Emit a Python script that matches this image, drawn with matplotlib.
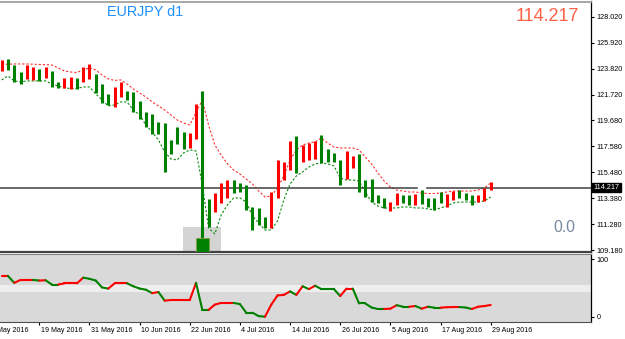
"""EURJPY d1, May-Aug 2016, redrawn in MetaTrader style."""

import matplotlib

matplotlib.use("Agg")

import matplotlib.pyplot as plt
import matplotlib.transforms as mtransforms
import numpy as np
from matplotlib.collections import LineCollection
from matplotlib.patches import Rectangle

W, H = 625, 339
FONT = "Liberation Sans"
RED = "#ff0000"
GREEN = "#008000"

# one bar per weekday, 11 May 2016 .. 29 Aug 2016
HIGHS = [124.54, 124.62, 124.14, 123.60, 124.14, 123.95, 123.82, 124.00, 123.68, 122.79,
         123.11, 123.19, 123.11, 123.95, 124.22, 123.39, 122.58, 121.77, 122.39, 122.79,
         122.04, 121.98, 121.23, 120.36, 120.15, 119.56, 119.48, 118.08, 119.15, 118.75,
         118.62, 120.99, 122.04, 113.28, 113.77, 114.58, 114.84, 114.84, 114.58, 114.44,
         112.68, 112.56, 111.88, 113.90, 116.46, 116.32, 118.00, 118.40, 117.67, 117.81,
         118.00, 118.48, 117.35, 117.00, 116.46, 117.19, 116.81, 116.92, 114.84, 114.92,
         113.63, 113.36, 113.09, 113.77, 113.63, 113.63, 113.71, 114.04, 113.41, 113.36,
         113.90, 113.69, 113.95, 114.04, 113.77, 113.63, 113.63, 114.17, 114.71]
LOWS = [123.65, 123.74, 122.74, 122.58, 123.01, 122.93, 122.85, 123.06, 122.39, 122.30,
        122.26, 122.20, 122.20, 122.74, 123.01, 121.85, 121.04, 120.91, 120.77, 121.58,
        121.31, 120.32, 119.77, 119.15, 118.54, 118.54, 115.51, 116.95, 117.75, 117.33,
        117.41, 118.13, 109.20, 111.07, 112.28, 112.96, 113.36, 113.77, 113.90, 112.42,
        110.80, 111.21, 110.94, 110.94, 113.36, 114.84, 115.65, 115.43, 116.32, 116.46,
        116.54, 116.19, 116.32, 116.27, 114.44, 114.92, 115.79, 113.90, 113.49, 113.09,
        112.96, 112.56, 112.34, 112.82, 112.96, 112.82, 112.82, 112.88, 112.68, 112.42,
        112.96, 112.68, 113.23, 113.41, 113.23, 112.82, 113.09, 113.15, 114.04]
# u = bar closed up (red), d = bar closed down (green); ten bars per chunk
DIRECTION = ("uddduududd" "uuduuddduu" "dddddddddd" "uudduuuddd" "ddduuuuduu"
             "udddduuddd" "dduudduddd" "duuddduuu")

UPPER = [124.18, 124.20, 124.22, 124.22, 124.22, 124.20, 124.18, 124.16, 124.14, 123.90,
         123.65, 123.57, 123.53, 123.74, 123.90, 123.74, 123.33, 123.01, 122.89, 122.93,
         122.60, 122.20, 121.88, 121.55, 121.15, 120.83, 120.50, 120.10, 119.69, 119.45,
         119.29, 120.30, 121.31, 119.29, 117.67, 116.86, 116.14, 115.65, 115.33, 114.92,
         114.52, 113.95, 113.47, 113.55, 114.20, 115.17, 116.46, 117.27, 117.67, 117.83,
         117.92, 118.24, 117.83, 117.51, 117.43, 117.43, 117.43, 117.27, 116.70, 116.14,
         115.41, 114.76, 114.28, 114.03, 113.95, 113.87, 113.87, 113.79, 113.75, 113.75,
         113.79, 113.87, 113.95, 113.95, 113.95, 113.95, 114.03, 114.20, 114.60]
LOWER = [122.93, 123.25, 122.85, 122.77, 122.85, 122.85, 122.85, 122.85, 122.60, 122.44,
         122.28, 122.24, 122.24, 122.36, 122.36, 121.80, 121.31, 120.83, 120.91, 121.15,
         121.15, 120.50, 120.10, 119.29, 118.72, 118.08, 117.11, 116.54, 116.46, 117.03,
         117.27, 117.19, 114.44, 110.96, 110.48, 112.01, 112.82, 113.39, 113.39, 113.06,
         111.93, 111.37, 110.80, 110.80, 111.53, 113.23, 114.52, 115.17, 115.49, 115.89,
         116.14, 116.22, 116.14, 115.98, 115.00, 114.84, 114.84, 114.76, 113.87, 113.06,
         112.74, 112.58, 112.58, 112.58, 112.66, 112.66, 112.58, 112.58, 112.50, 112.42,
         112.58, 112.74, 112.98, 113.06, 113.06, 113.06, 113.06, 113.15, 113.47]

OSC = [71, 71, 59, 64, 64, 64, 63, 63.5, 56, 56,
       58, 58, 58, 68, 66, 63, 51, 49, 58, 58,
       58, 53, 49, 47, 41, 43, 28, 29, 29, 29,
       29, 59, 12, 12, 21, 24, 24, 24, 22, 7,
       7, 1, 0, 21, 37, 38, 44, 38, 53, 48,
       54, 48, 48, 48, 36, 49, 49, 23, 23, 16,
       13.4, 13.4, 14, 20, 17.4, 17.4, 18.6, 14, 17.4, 15.8,
       15.8, 16.5, 16.8, 16.8, 16, 13.4, 17.4, 18.6, 20.4]
OSC_BAND = (43.5, 55.5)

DATE_POS = [-2, 6, 14, 22, 30, 38, 46, 54, 62, 70, 78]
DATE_LABELS = ["9 May 2016", "19 May 2016", "31 May 2016", "10 Jun 2016", "22 Jun 2016",
               "4 Jul 2016", "14 Jul 2016", "26 Jul 2016", "5 Aug 2016", "17 Aug 2016",
               "29 Aug 2016"]
PRICE_TICKS = [128.02, 125.92, 123.82, 121.72, 119.68, 117.58, 115.48, 113.38, 111.28, 109.18]
LAST_PRICE = 114.217
MARKED_BAR = 32  # Brexit bar, highlighted by the box at its low


def _px_box(left, top, right, bottom):
    return [left / W, 1 - bottom / H, (right - left) / W, (bottom - top) / H]


def draw_main(ax):
    x = np.arange(len(HIGHS))
    ax.add_patch(Rectangle((MARKED_BAR - 3.1, 108.9), 6.1, 2.14, color="#d4d4d4", lw=0, zorder=1))
    ax.add_patch(Rectangle((MARKED_BAR - 1.0, 108.9), 2.05, 1.25, facecolor=GREEN,
                           edgecolor="#7fa040", lw=0.6, zorder=4))
    colors = [RED if d == "u" else GREEN for d in DIRECTION]
    ax.vlines(x, LOWS, HIGHS, colors=colors, linewidth=2.2, zorder=3)
    ax.plot(x, UPPER, color="#ff3030", lw=0.8, dashes=(2, 1.7), zorder=2)
    ax.plot(x, LOWER, color="#0a8a0a", lw=0.8, dashes=(2, 1.7), zorder=2)

    # last price line, broken where the chart leaves a gap
    ax.plot([-1, 66.2], [LAST_PRICE, LAST_PRICE], color="#404040", lw=1.1, zorder=2)
    ax.plot([67.8, 100], [LAST_PRICE, LAST_PRICE], color="#404040", lw=1.1, zorder=2)

    ax.set_xlim(-0.27, 94.0)
    ax.set_ylim(109.02, 129.27)
    ax.set_xticks([])
    ax.yaxis.tick_right()
    ax.set_yticks(PRICE_TICKS, [f"{p:.3f}" for p in PRICE_TICKS])
    ax.tick_params(axis="y", length=2.5, width=0.8, pad=1.5, labelsize=5.2)
    for lab in ax.get_yticklabels():
        lab.set_family(FONT)
    ax.spines["left"].set_visible(False)
    ax.spines["top"].set_color("#a0a0a0")
    ax.spines["top"].set_linewidth(1.3)
    ax.spines["bottom"].set_color("#404040")
    ax.spines["bottom"].set_linewidth(1.6)
    ax.spines["right"].set_linewidth(0.9)

    trans = mtransforms.blended_transform_factory(ax.transAxes, ax.transData)
    ax.text(1.004, LAST_PRICE, f"{LAST_PRICE:.3f}", transform=trans, color="white",
            fontsize=5.2, family=FONT, va="center", ha="left", zorder=6,
            bbox=dict(facecolor="black", edgecolor="black", pad=0.9))


def draw_osc(ax):
    ax.set_facecolor("#d9d9d9")
    ax.axhspan(*OSC_BAND, color="#eeeeee", lw=0, zorder=0)
    x = np.arange(len(OSC))
    pts = np.column_stack([x, OSC])
    segs = np.stack([pts[:-1], pts[1:]], axis=1)
    colors = []
    last = RED
    for a, b in zip(OSC[:-1], OSC[1:]):
        if b > a:
            last = RED
        elif b < a:
            last = GREEN
        colors.append(last)
    ax.add_collection(LineCollection(segs, colors=colors, linewidths=1.5, zorder=3,
                                     capstyle="round"))

    ax.set_xlim(-0.27, 94.0)
    ax.set_ylim(-8.7, 109.2)
    ax.yaxis.tick_right()
    ax.set_yticks([0, 100], ["0", "100"])
    ax.tick_params(axis="y", length=2.5, width=0.8, pad=1.5, labelsize=5.2)
    visible = [p for p in DATE_POS if p >= 0]
    ax.set_xticks(visible, [""] * len(visible))
    ax.tick_params(axis="x", length=2.5, width=0.8)
    for lab in ax.get_yticklabels():
        lab.set_family(FONT)
    ax.spines["left"].set_visible(False)
    ax.spines["top"].set_color("#808080")
    ax.spines["bottom"].set_color("#505050")
    ax.spines["right"].set_linewidth(0.9)

    # first label starts left of the window and is cut, as on the terminal
    trans = mtransforms.blended_transform_factory(ax.transData, ax.transAxes)
    for pos, label in zip(DATE_POS, DATE_LABELS):
        ax.text(pos + 0.25, -0.125, label, transform=trans, ha="left", va="center",
                fontsize=5.1, family=FONT, clip_on=False)


def main() -> None:
    fig = plt.figure(figsize=(W / 100, H / 100), dpi=100)
    fig.patch.set_facecolor("white")
    ax = fig.add_axes(_px_box(0, 1.5, 591, 252))
    ax_osc = fig.add_axes(_px_box(0, 254, 591, 321.7))
    draw_main(ax)
    draw_osc(ax_osc)

    fig.text(107 / W, 1 - 16 / H, "EURJPY d1", color="#1e90ff", fontsize=10.4,
             family=FONT, va="baseline", ha="left")
    fig.text(579 / W, 1 - 20.7 / H, f"{LAST_PRICE:.3f}", color="#ff6347", fontsize=13,
             family=FONT, va="baseline", ha="right")
    fig.text(575 / W, 1 - 231.7 / H, "0.0", color="#7788a0", fontsize=11.3,
             family=FONT, va="baseline", ha="right")

    fig.savefig("out.png", dpi=100)
    plt.close(fig)


if __name__ == "__main__":
    main()
